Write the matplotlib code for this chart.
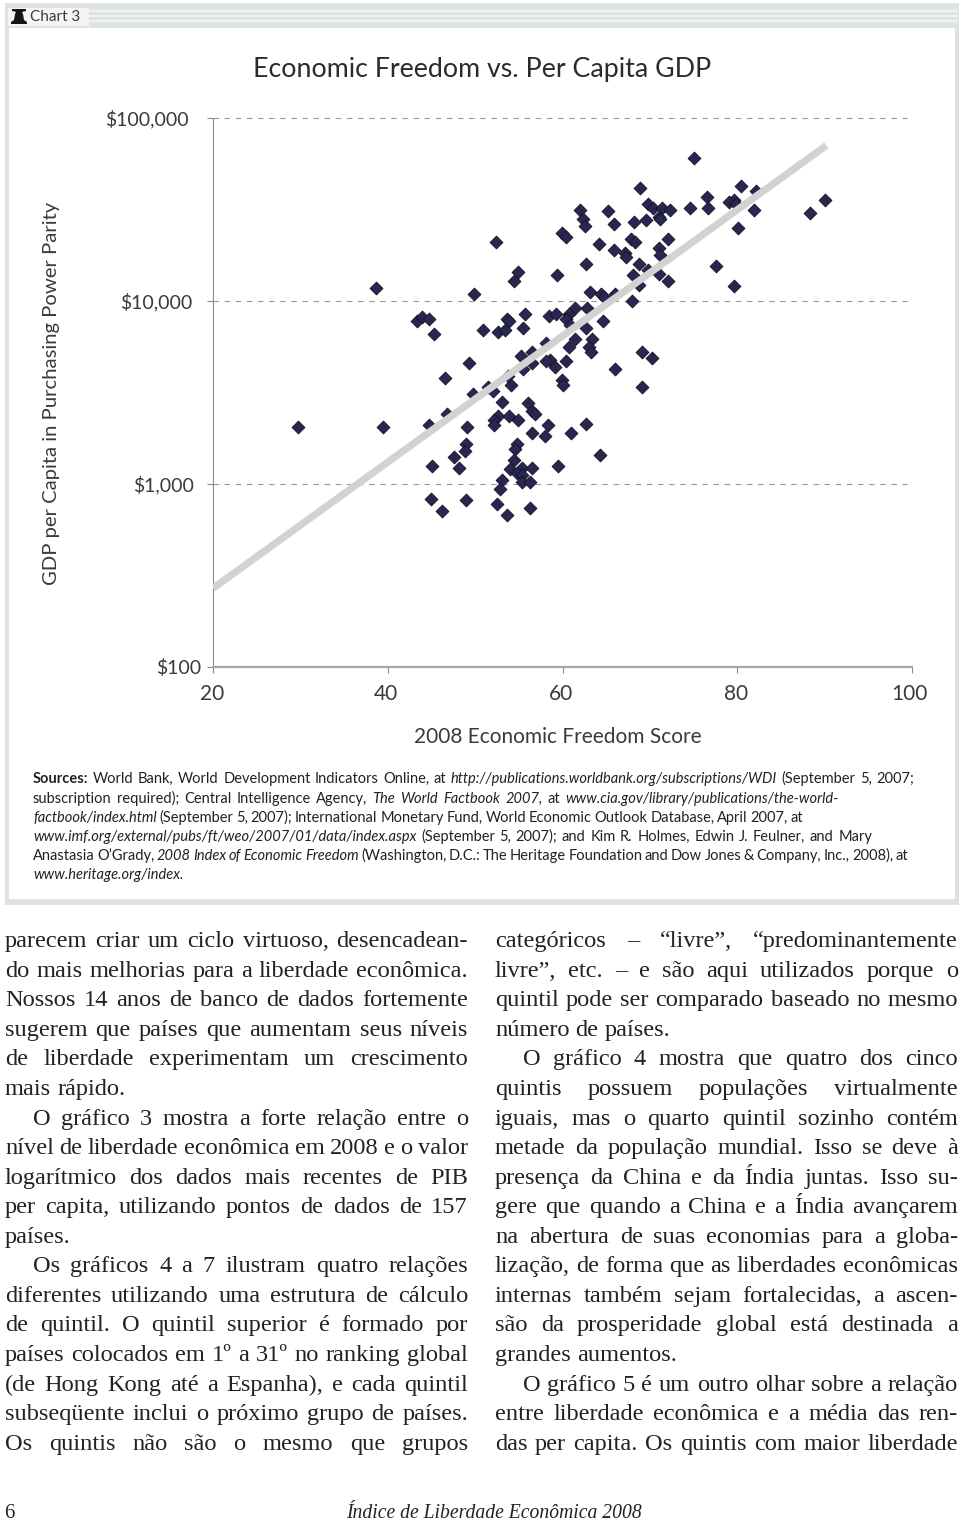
import matplotlib
matplotlib.use('Agg')
import matplotlib.pyplot as plt
import numpy as np
from matplotlib.font_manager import FontProperties
from matplotlib.patches import Rectangle, Polygon
from matplotlib.transforms import ScaledTranslation

# Economic freedom score and log10 of GDP per capita
score = [75.1, 68.9, 80.4, 82.1, 76.5, 90.1, 88.3, 69.8, 70.4, 71.4, 72.3, 74.6, 76.7, 79.6, 79.1, 79.8, 81.9,
         62.0, 62.4, 62.6, 65.2, 65.9, 68.2, 69.6, 71.0, 71.2, 80.1, 59.9, 60.4, 64.2, 67.8, 68.3, 72.1, 52.4,
         65.9, 71.0, 71.2, 67.1, 67.3, 54.9, 54.5, 59.4, 62.7, 68.7, 69.8, 71.0, 77.6, 72.1, 79.6, 68.1, 68.8,
         63.2, 64.4, 64.7, 66.0, 68.0, 61.4, 60.8, 62.8, 55.7, 58.4, 59.3, 53.7, 53.9, 60.4, 60.9, 50.9, 52.6,
         53.4, 55.5, 62.7, 64.6, 61.4, 60.8, 63.4, 63.0, 63.3, 58.1, 56.5, 55.2, 69.1, 70.3, 56.5, 55.5, 58.6,
         58.1, 59.1, 60.4, 66.0, 59.9, 60.1, 69.1, 54.1, 53.8, 51.5, 52.1, 53.1, 56.1, 56.5, 56.8, 38.6, 49.9,
         43.3, 43.9, 44.7, 45.3, 49.3, 46.5, 49.7, 46.8, 44.7, 29.7, 39.5, 49.1, 52.6, 52.2, 52.2, 53.9, 54.9,
         58.3, 56.5, 58.0, 48.9, 54.8, 54.6, 48.8, 47.6, 48.2, 45.1, 54.4, 54.0, 55.4, 56.5, 54.8, 55.4, 53.1,
         55.4, 56.3, 52.8, 45.0, 48.9, 52.5, 56.3, 46.2, 53.7, 59.5, 61.0, 62.7, 64.3]
log_gdp = [4.78, 4.62, 4.63, 4.60, 4.57, 4.55, 4.48, 4.53, 4.51, 4.51, 4.50, 4.51, 4.51, 4.55, 4.54, 4.53, 4.50,
           4.50, 4.45, 4.41, 4.49, 4.42, 4.43, 4.44, 4.46, 4.45, 4.40, 4.37, 4.35, 4.31, 4.34, 4.32, 4.34, 4.32,
           4.28, 4.29, 4.25, 4.26, 4.24, 4.16, 4.11, 4.14, 4.20, 4.20, 4.17, 4.15, 4.19, 4.11, 4.08, 4.14, 4.09,
           4.05, 4.04, 4.02, 4.04, 4.00, 3.96, 3.93, 3.96, 3.93, 3.92, 3.93, 3.90, 3.89, 3.90, 3.87, 3.84, 3.83,
           3.84, 3.85, 3.85, 3.89, 3.79, 3.75, 3.79, 3.75, 3.72, 3.77, 3.72, 3.70, 3.72, 3.69, 3.66, 3.63, 3.68,
           3.67, 3.64, 3.67, 3.63, 3.57, 3.54, 3.53, 3.54, 3.59, 3.53, 3.51, 3.45, 3.44, 3.40, 3.38, 4.07, 4.04,
           3.89, 3.91, 3.90, 3.82, 3.66, 3.58, 3.49, 3.38, 3.32, 3.31, 3.31, 3.31, 3.37, 3.35, 3.32, 3.37, 3.35,
           3.32, 3.28, 3.26, 3.22, 3.22, 3.19, 3.18, 3.15, 3.09, 3.10, 3.13, 3.08, 3.09, 3.09, 3.06, 3.05, 3.02,
           3.01, 3.01, 2.97, 2.92, 2.91, 2.89, 2.87, 2.85, 2.83, 3.10, 3.28, 3.33, 3.16]
trend_score = [20, 90.2]
trend_log = [2.43, 4.85]

x_ticks = [20, 40, 60, 80, 100]
y_ticks = [100, 1000, 10000, 100000]
y_labels = ['$100', '$1,000', '$10,000', '$100,000']

title = 'Economic Freedom vs. Per Capita GDP'
x_title = '2008 Economic Freedom Score'
y_title = 'GDP per Capita in Purchasing Power Parity'

R, I, B = 'roman', 'italic', 'bold'
sources = [
    ([(B, 'Sources:'), (R, 'World Bank, World Development Indicators Online, at'),
      (I, 'http://publications.worldbank.org/subscriptions/WDI'), (R, '(September 5, 2007;')], 914),
    ([(R, 'subscription required); Central Intelligence Agency,'), (I, 'The World Factbook 2007,'), (R, 'at'),
      (I, 'www.cia.gov/library/publications/the-world-')], 839),
    ([(I, 'factbook/index.html'), (R, '(September 5, 2007); International Monetary Fund, World Economic Outlook Database, April 2007, at')], 803),
    ([(I, 'www.imf.org/external/pubs/ft/weo/2007/01/data/index.aspx'), (R, '(September 5, 2007); and Kim R. Holmes, Edwin J. Feulner, and Mary')], 872),
    ([(R, 'Anastasia O’Grady,'), (I, '2008 Index of Economic Freedom'), (R, '(Washington, D.C.: The Heritage Foundation and Dow Jones & Company, Inc., 2008), at')], 908),
    ([(I, 'www.heritage.org/index.')], None),
]

# (text, indented, justified)
left_col = [
    ('parecem criar um ciclo virtuoso, desencadean-', 0, 1),
    ('do mais melhorias para a liberdade econômica.', 0, 1),
    ('Nossos 14 anos de banco de dados fortemente', 0, 1),
    ('sugerem que países que aumentam seus níveis', 0, 1),
    ('de liberdade experimentam um crescimento', 0, 1),
    ('mais rápido.', 0, 0),
    ('O gráfico 3 mostra a forte relação entre o', 1, 1),
    ('nível de liberdade econômica em 2008 e o valor', 0, 1),
    ('logarítmico dos dados mais recentes de PIB', 0, 1),
    ('per capita, utilizando pontos de dados de 157', 0, 1),
    ('países.', 0, 0),
    ('Os gráficos 4 a 7 ilustram quatro relações', 1, 1),
    ('diferentes utilizando uma estrutura de cálculo', 0, 1),
    ('de quintil. O quintil superior é formado por', 0, 1),
    ('países colocados em 1º a 31º no ranking global', 0, 1),
    ('(de Hong Kong até a Espanha), e cada quintil', 0, 1),
    ('subseqüente inclui o próximo grupo de países.', 0, 1),
    ('Os quintis não são o mesmo que grupos', 0, 1),
]
right_col = [
    ('categóricos – “livre”, “predominantemente', 0, 1),
    ('livre”, etc. – e são aqui utilizados porque o', 0, 1),
    ('quintil pode ser comparado baseado no mesmo', 0, 1),
    ('número de países.', 0, 0),
    ('O gráfico 4 mostra que quatro dos cinco', 1, 1),
    ('quintis possuem populações virtualmente', 0, 1),
    ('iguais, mas o quarto quintil sozinho contém', 0, 1),
    ('metade da população mundial. Isso se deve à', 0, 1),
    ('presença da China e da Índia juntas. Isso su-', 0, 1),
    ('gere que quando a China e a Índia avançarem', 0, 1),
    ('na abertura de suas economias para a globa-', 0, 1),
    ('lização, de forma que as liberdades econômicas', 0, 1),
    ('internas também sejam fortalecidas, a ascen-', 0, 1),
    ('são da prosperidade global está destinada a', 0, 1),
    ('grandes aumentos.', 0, 0),
    ('O gráfico 5 é um outro olhar sobre a relação', 1, 1),
    ('entre liberdade econômica e a média das ren-', 0, 1),
    ('das per capita. Os quintis com maior liberdade', 0, 1),
]
body_y = [947, 977, 1006, 1036, 1065, 1095, 1125, 1154, 1184, 1213, 1243, 1272, 1302, 1331, 1361, 1391, 1420, 1450]

SANS = 'Lato'
SERIF = 'Liberation Serif'
DARK = '#3a3a3a'

fig = plt.figure(figsize=(9.6, 15.22), dpi=100)
page = fig.add_axes([0, 0, 1, 1])
page.set_xlim(0, 960)
page.set_ylim(1522, 0)
page.axis('off')
renderer = fig.canvas.get_renderer()


def width(s, fp):
    return renderer.get_text_width_height_descent(s, fp, False)[0]


def draw_line(x0, x1, y, words, fonts):
    # words is a list of (style, word), x1 None leaves natural spacing
    space = width('n n', fonts[R]) - width('nn', fonts[R])
    widths = [width(w, fonts[st]) for st, w in words]
    gap = space
    if x1 is not None and len(words) > 1:
        gap = (x1 - x0 - sum(widths)) / (len(words) - 1)
    x = x0
    for (st, w), wd in zip(words, widths):
        page.text(x, y, w, fontproperties=fonts[st], color='#222222', va='baseline', ha='left')
        x += wd + gap


# frame
page.add_patch(Rectangle((5, 3), 954, 902, fc='#dfe2e2', ec='none'))
page.add_patch(Rectangle((9, 28), 946, 871, fc='white', ec='none'))
page.add_patch(Rectangle((8, 8), 81, 18, fc='#f4f5f5', ec='none'))
for yy in (11, 16, 21):
    page.plot([90, 957], [yy, yy], color='#f4f5f5', lw=1.3)
page.add_patch(Polygon([(11, 24), (11, 22), (14, 20), (15, 14), (16, 12), (12, 11), (12, 9), (26, 9), (26, 11), (22, 12),
                        (23, 14), (24, 20), (27, 22), (27, 24)], fc='#151515', ec='none'))
page.text(30, 21, 'Chart 3', fontproperties=FontProperties(family=SANS, size=11), color=DARK, va='baseline')

# chart
ax = fig.add_axes([213 / 960, 1 - 667 / 1522, (912 - 213) / 960, (667 - 118) / 1522])
ax.patch.set_alpha(0)
ax.set_yscale('log')
ax.set_xlim(20, 100)
ax.set_ylim(100, 100000)
ax.scatter(score, 10 ** np.array(log_gdp), marker='D', s=42, c='#2a2652', edgecolors='#17172a', linewidths=0.7, zorder=3)
ax.plot(trend_score, 10 ** np.array(trend_log), color='#d2d2d2', lw=5.2, solid_capstyle='butt', zorder=4)

for g in y_ticks[1:]:
    ax.plot([20, 99.4], [g, g], color='#999999', lw=0.8, ls=(0, (5, 5)), clip_on=False, zorder=1)

for s in ('top', 'right'):
    ax.spines[s].set_visible(False)
ax.spines['left'].set_color('#8c8c8c')
ax.spines['left'].set_linewidth(0.8)
ax.spines['bottom'].set_color('#a8a8a8')
ax.spines['bottom'].set_linewidth(1.6)
ax.set_xticks(x_ticks)
ax.set_xticklabels(x_ticks)
ax.set_yticks(y_ticks)
ax.set_yticklabels(y_labels)
ax.minorticks_off()
ax.tick_params(axis='x', length=4, color='#8c8c8c', width=0.8, pad=8)
ax.tick_params(axis='y', length=4, color='#8c8c8c', width=0.8, pad=19)
for lab in ax.get_xticklabels():
    lab.set_fontfamily(SANS)
    lab.set_fontsize(15)
    lab.set_color(DARK)
for lab in ax.get_yticklabels():
    lab.set_fontfamily(SANS)
    lab.set_fontsize(14)
    lab.set_color(DARK)
y_shift = [20, 13, 11, 8]
for lab, dx in zip(ax.get_yticklabels(), y_shift):
    lab.set_transform(lab.get_transform() + ScaledTranslation(dx / 100, 0, fig.dpi_scale_trans))
x_shift = [-1, -2, -1, -1, -3]
for lab, dx in zip(ax.get_xticklabels(), x_shift):
    lab.set_transform(lab.get_transform() + ScaledTranslation(dx / 100, 0, fig.dpi_scale_trans))

page.text(482, 69, title, fontproperties=FontProperties(family=SANS, size=19.3), color='#2b2b2b', ha='center', va='center')
page.text(558, 737, x_title, fontproperties=FontProperties(family=SANS, size=15), color=DARK, ha='center', va='center')
page.text(52, 393, y_title, fontproperties=FontProperties(family=SANS, size=14.6), color=DARK, ha='center', va='center', rotation=90)

# sources
src_fonts = {R: FontProperties(family=SANS, size=10.5), I: FontProperties(family=SANS, style='italic', size=10.5),
             B: FontProperties(family=SANS, weight='bold', size=10.5)}
for (runs, x1), y in zip(sources, [783, 803, 822, 841, 860, 879]):
    words = [(st, w) for st, txt in runs for w in txt.split()]
    draw_line(33, x1, y, words, src_fonts)

# body columns
body_fonts = {R: FontProperties(family=SERIF, size=17.6)}
for col, x0, x1 in ((left_col, 5, 468), (right_col, 495, 958)):
    for (txt, indent, just), y in zip(col, body_y):
        words = [(R, w) for w in txt.split()]
        draw_line(x0 + 28 * indent, x1 if just else None, y, words, body_fonts)

# footer
page.text(4, 1518, '6', fontproperties=FontProperties(family=SERIF, size=15), color='#222222', va='baseline')
page.text(346, 1518, 'Índice de Liberdade Econômica 2008', fontproperties=FontProperties(family=SERIF, style='italic', size=14.1),
          color='#222222', va='baseline')

fig.savefig('out.png', dpi=100)
